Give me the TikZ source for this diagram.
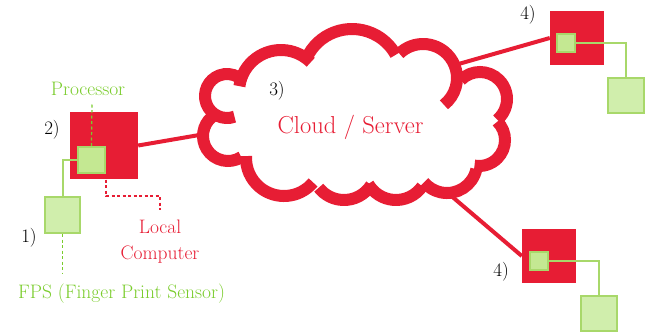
\documentclass[tikz,border=0pt]{standalone}
\usepackage{fontspec}
\definecolor{netred}{RGB}{231,29,52}
\definecolor{boxline}{RGB}{168,216,106}
\definecolor{procfill}{RGB}{196,232,146}
\definecolor{sensfill}{RGB}{208,238,172}
\definecolor{labgreen}{RGB}{122,204,44}
\begin{document}
\begin{tikzpicture}[x=1pt,y=1pt,
  redbox/.style={fill=netred,draw=none,inner sep=0pt},
  procbox/.style={fill=procfill,draw=boxline,line width=2pt,inner sep=0pt},
  sensbox/.style={fill=sensfill,draw=boxline,line width=2pt,inner sep=0pt},
  link/.style={draw=netred,line width=4pt},
  wire/.style={draw=boxline,line width=2pt},
  callgreen/.style={draw=labgreen,line width=1.2pt,dash pattern=on 3pt off 2.5pt},
  callred/.style={draw=netred,line width=1.2pt,dash pattern=on 3pt off 2.5pt},
  puff/.style={draw=netred,line width=12pt,line cap=butt},
  num/.style={font=\fontsize{19}{22}\selectfont,text=black,inner sep=0pt},
  lab/.style={font=\fontsize{19.5}{26}\selectfont,inner sep=0pt}]
\useasboundingbox (0,0) rectangle (649,-335);

% a single puff of the cloud: centre, radius, start and end angle
\def\puffarc(#1,#2,#3,#4,#5){%
  \draw[puff] (#1,#2) ++(#4:#3) arc[start angle=#4,end angle=#5,radius=#3];}

% devices
\node[redbox,minimum width=68,minimum height=67] (comp) at (104,-145.5) {};
\node[redbox,minimum width=54,minimum height=54] (devA) at (577,-38) {};
\node[redbox,minimum width=54,minimum height=54] (devB) at (549,-256) {};

% attachment points on the cloud outline
\coordinate (cloudW) at (205,-134);
\coordinate (cloudNE) at (455,-65);
\coordinate (cloudSE) at (449,-194);

% links to the server
\draw[link] (comp.east) -- (cloudW);
\draw[link] (devA.west) -- (cloudNE);
\draw[link] (devB.west) -- (cloudSE);

% cloud outline built from overlapping puffs, clockwise from the upper left
\puffarc(227,-96,22,290,60)
\puffarc(281,-92,42,172,45)
\puffarc(352,-79,50,150,29)
\puffarc(423,-78,34,134,-52)
\puffarc(480,-99,27,135,-50)
\puffarc(479,-140,26,45,-100)
\puffarc(447,-163,30,-12,-140)
\puffarc(396,-168,32,-35,-150)
\puffarc(344,-168,32,-32,-142)
\puffarc(284,-158,38,-40,-183)
\puffarc(228,-136,25,302,130)

% sensors and processors
\node[procbox,minimum width=27,minimum height=26] (proc) at (91.5,-160) {};
\node[sensbox,minimum width=35,minimum height=36] (fps) at (62.5,-215) {};
\node[procbox,minimum width=18,minimum height=18] (procA) at (566,-43) {};
\node[sensbox,minimum width=36,minimum height=35] (fpsA) at (626,-95.5) {};
\node[procbox,minimum width=18,minimum height=18] (procB) at (539,-261) {};
\node[sensbox,minimum width=36,minimum height=35] (fpsB) at (599,-313.5) {};

\draw[wire] (fps.north) |- (proc.west);
\draw[wire] (procA.east) -| (fpsA.north);
\draw[wire] (procB.east) -| (fpsB.north);

% callouts
\coordinate (procTip) at (92,-103);
\coordinate (fpsTip) at (62.5,-273);
\coordinate (lcTip) at (160,-210);
\draw[callgreen] (proc.north) -- (procTip);
\draw[callgreen] (fps.south) -- (fpsTip);
\draw[callred] (proc.south east) -- ++(0,-22) -| (lcTip);

\node[lab,text=labgreen,anchor=base] (procLab) at (88,-95) {Processor};
\node[lab,text=labgreen,anchor=base] (fpsLab) at (121.5,-298) {FPS (Finger Print Sensor)};
\node[lab,text=netred,anchor=north,align=center] (lcLab) at (160,-220) {Local\\Computer};
\node[font=\fontsize{24.5}{28}\selectfont,text=netred,inner sep=0pt,anchor=base] (cloudLab) at (350.5,-133) {Cloud / Server};

% step numbers
\node[num] (n1) at (29,-238) {1)};
\node[num] (n2) at (52,-130) {2)};
\node[num] (n3) at (277,-91) {3)};
\node[num] (n4a) at (528,-15) {4)};
\node[num] (n4b) at (501,-272) {4)};
\end{tikzpicture}
\end{document}
